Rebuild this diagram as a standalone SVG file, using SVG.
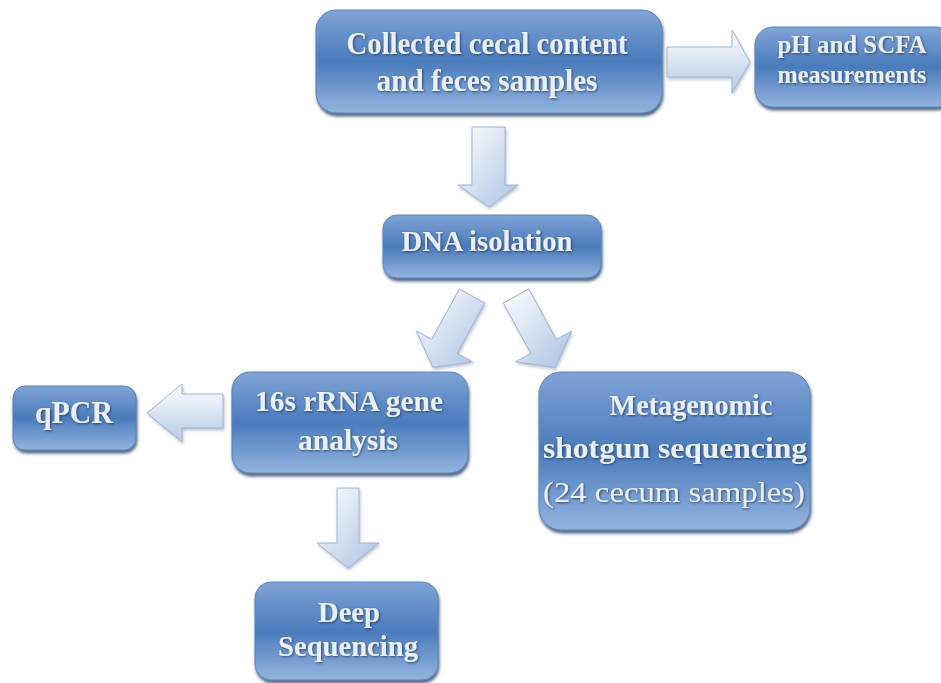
<svg xmlns="http://www.w3.org/2000/svg" width="941" height="683" viewBox="0 0 941 683">
<defs>
<linearGradient id="boxg" x1="0" y1="0" x2="0" y2="1">
<stop offset="0" stop-color="#80a4d6"/>
<stop offset="0.5" stop-color="#4a7bbc"/>
<stop offset="0.85" stop-color="#7ea3d4"/>
<stop offset="1" stop-color="#93b4df"/>
</linearGradient>
<linearGradient id="arrg" x1="0" y1="0" x2="1" y2="1">
<stop offset="0" stop-color="#ffffff"/>
<stop offset="1" stop-color="#a9c2e2"/>
</linearGradient>
<linearGradient id="arrh" x1="0" y1="0" x2="0" y2="1">
<stop offset="0" stop-color="#ffffff"/>
<stop offset="1" stop-color="#b3c9e5"/>
</linearGradient>
<filter id="sh" x="-10%" y="-10%" width="120%" height="130%">
<feDropShadow dx="1" dy="3" stdDeviation="1.5" flood-color="#1e3458" flood-opacity="0.75"/>
</filter>
<filter id="ash" x="-10%" y="-10%" width="130%" height="130%">
<feDropShadow dx="1" dy="2" stdDeviation="1.5" flood-color="#6b7f9c" flood-opacity="0.45"/>
</filter>
<filter id="tsh" x="-5%" y="-20%" width="110%" height="150%">
<feDropShadow dx="1" dy="1" stdDeviation="0.8" flood-color="#1a2c4a" flood-opacity="0.7"/>
</filter>
</defs>
<style>
.box{fill:url(#boxg);stroke:#5b82b8;stroke-width:1;filter:url(#sh)}
.arr{stroke:#9fb4d3;stroke-width:1;filter:url(#ash)}
.t{font-family:"Liberation Serif","Times New Roman",serif;font-weight:bold;fill:#eaf0f8;text-anchor:middle;filter:url(#tsh)}
.r{font-weight:normal}
</style>
<rect width="941" height="683" fill="#ffffff"/>
<g id="connectors">
<polygon class="arr" fill="url(#arrh)" points="667,47 732,47 732,30 750,62 732,93 732,77 667,77"/>
<polygon class="arr" fill="url(#arrg)" points="472,127 505,127 505,185 518,185 489,207 458,185 472,185"/>
<polygon class="arr" fill="url(#arrg)" points="459.3,289 484.7,303 457.1,353.4 472.5,361.8 432.9,367.4 416.3,331 431.7,339.4"/>
<polygon class="arr" fill="url(#arrg)" points="528.7,289 503.3,303 530.9,353.4 515.5,361.8 555.1,367.4 571.7,331 556.3,339.4"/>
<polygon class="arr" fill="url(#arrh)" points="223,394 182,394 182,384 147,413 182,442 182,428 223,428"/>
<polygon class="arr" fill="url(#arrg)" points="337,488 359,488 359,543 379,543 348,568 317,543 337,543"/>
</g>
<g id="collected">
<rect class="box" x="316" y="10" width="346" height="103" rx="20"/>
<text class="t" x="487" y="54" font-size="31" textLength="281" lengthAdjust="spacingAndGlyphs">Collected cecal content</text>
<text class="t" x="487" y="91" font-size="31" textLength="221" lengthAdjust="spacingAndGlyphs">and feces samples</text>
</g>
<g id="ph">
<rect class="box" x="755" y="27" width="200" height="80" rx="18"/>
<text class="t" x="852" y="53" font-size="25" textLength="149" lengthAdjust="spacingAndGlyphs">pH and SCFA</text>
<text class="t" x="852" y="83" font-size="25" textLength="149" lengthAdjust="spacingAndGlyphs">measurements</text>
</g>
<g id="dna">
<rect class="box" x="383" y="215" width="218" height="63" rx="14"/>
<text class="t" x="487" y="251" font-size="29" textLength="171" lengthAdjust="spacingAndGlyphs">DNA isolation</text>
</g>
<g id="rrna">
<rect class="box" x="232" y="372" width="236" height="101" rx="18"/>
<text class="t" x="349" y="411" font-size="30" textLength="188" lengthAdjust="spacingAndGlyphs">16s rRNA gene</text>
<text class="t" x="348" y="450" font-size="30" textLength="100" lengthAdjust="spacingAndGlyphs">analysis</text>
</g>
<g id="qpcr">
<rect class="box" x="13" y="386" width="123" height="64" rx="12"/>
<text class="t" x="74" y="423" font-size="31" textLength="78" lengthAdjust="spacingAndGlyphs">qPCR</text>
</g>
<g id="metagenomic">
<rect class="box" x="539" y="372" width="271" height="158" rx="22"/>
<text class="t" x="691" y="415" font-size="29" textLength="163" lengthAdjust="spacingAndGlyphs">Metagenomic</text>
<text class="t" x="675" y="458" font-size="29" textLength="264" lengthAdjust="spacingAndGlyphs">shotgun  sequencing</text>
<text class="t r" x="674" y="502" font-size="30" textLength="262" lengthAdjust="spacingAndGlyphs">(24 cecum samples)</text>
</g>
<g id="deep">
<rect class="box" x="255" y="582" width="183" height="98" rx="16"/>
<text class="t" x="349" y="622" font-size="29" textLength="62" lengthAdjust="spacingAndGlyphs">Deep</text>
<text class="t" x="348" y="656" font-size="29" textLength="140" lengthAdjust="spacingAndGlyphs">Sequencing</text>
</g>
</svg>
